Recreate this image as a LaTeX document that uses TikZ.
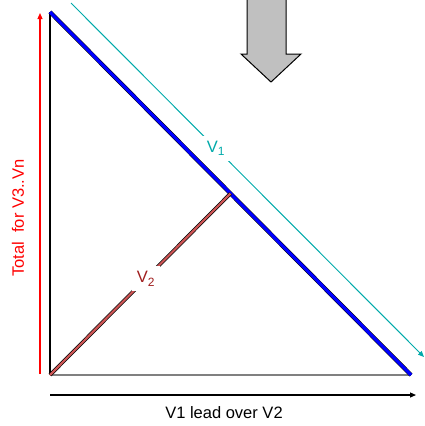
\documentclass[tikz,border=0pt]{standalone}
\usepackage{fontspec}
\setmainfont{Liberation Sans}
\usepackage{xcolor}
\usetikzlibrary{arrows.meta}
\definecolor{vteal}{RGB}{0,170,170}
\definecolor{vtwored}{RGB}{160,30,30}
\definecolor{vtwofill}{RGB}{205,85,85}
\definecolor{bigarrow}{RGB}{192,192,192}
\newcommand{\vsub}[2]{#1\raisebox{-3.5pt}{\fontsize{12}{12}\selectfont #2}}
\begin{document}
\begin{tikzpicture}[x=1pt, y=-1pt,
    every node/.style={font=\fontsize{16.5}{20}\selectfont},
    tip/.style={-{Triangle[length=6,width=5]}}]
    \useasboundingbox (0,0) rectangle (425,426);

    % Corners
    \coordinate (top) at (50,12);
    \coordinate (origin) at (50,375);
    \coordinate (right) at (411,375);
    \coordinate (foot) at (230.5,193.5);

    % Triangle
    \draw[gray, line width=2] (origin) -- (right);
    \draw[black, line width=1.6] (origin) -- (top);
    \draw[line width=0.5, double=blue, double distance=3.2] (top) -- (right);

    % V2 leg
    \draw[line width=0.7, double=vtwofill, double distance=2.2] (origin) -- node[pos=0.53, fill=white, inner sep=5pt, text=vtwored] (vtwo) {\vsub{V}{2}} (foot);

    % V1 direction
    \coordinate (vstart) at (71,3);
    \coordinate (vend) at (424,357);
    \draw[vteal, line width=1, tip] (vstart) -- node[pos=0.41, fill=white, inner sep=5pt] (vone) {\vsub{V}{1}} (vend);

    % Axes
    \coordinate (ybot) at (40,374);
    \coordinate (ytop) at (40,13);
    \draw[red, line width=1.2, tip] (ybot) -- (ytop);
    \coordinate (xleft) at (50,395);
    \coordinate (xright) at (416,395);
    \draw[black, line width=1.2, tip] (xleft) -- (xright);
    \node (xlabel) at (224,413) {V1 lead over V2};
    \node[red, rotate=90] (ylabel) at (18,218) {Total\ \ for V3..Vn};

    % Big arrow
    \draw[fill=bigarrow, line width=1] (247,-2) -- (247,54) -- (241,54) -- (271,82) -- (301,54) -- (286,54) -- (286,-2) -- cycle;
\end{tikzpicture}
\end{document}
